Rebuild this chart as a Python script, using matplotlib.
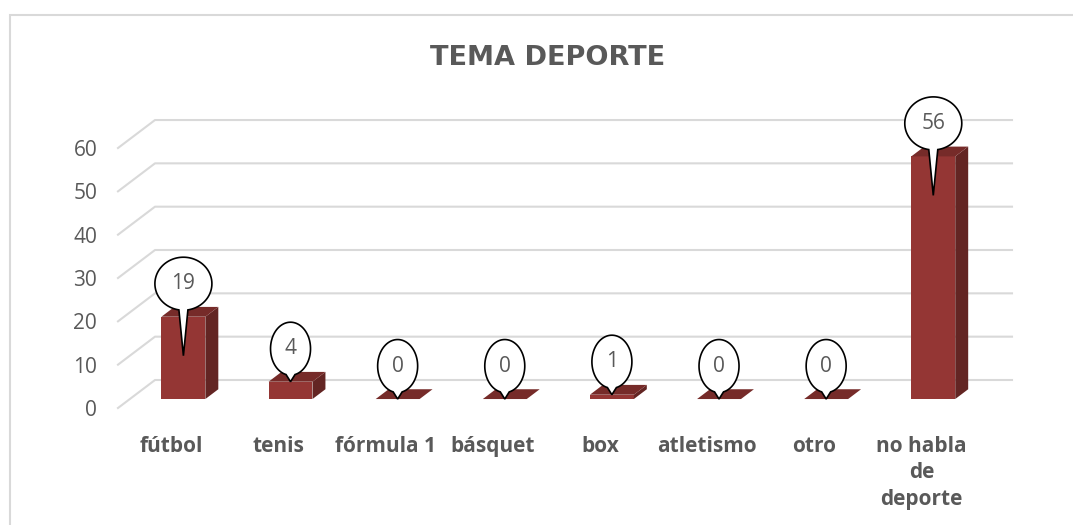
import matplotlib
matplotlib.use('Agg')
import matplotlib.pyplot as plt
from matplotlib.patches import Polygon, Rectangle
import numpy as np

plt.rcParams['font.family'] = ['Open Sans', 'DejaVu Sans']

# datos
categorias = ['fútbol', 'tenis', 'fórmula 1', 'básquet', 'box', 'atletismo', 'otro',
              'no habla\nde\ndeporte']
valores = [19, 4, 0, 0, 1, 0, 0, 56]
ticks_y = [0, 10, 20, 30, 40, 50, 60]
titulo = 'TEMA DEPORTE'

gris = '#595959'
c_frente = '#943634'
c_lado = '#632523'
c_arriba = '#762b29'

W, H = 1073, 525
fig = plt.figure(figsize=(W / 100, H / 100), dpi=100)

# pseudo 3D: el eje es el plano frontal del piso
px_cat = 857 / 8.0
px_val = 4.333
ax = fig.add_axes([118 / W, (H - 408) / H, 857 / W, 288 / H])
ax.set_xlim(-0.5, 7.5)
ax.set_ylim(0, 288 / px_val)
for s in ax.spines.values():
    s.set_visible(False)

DX = 37 / px_cat   # profundidad del piso
DY = 28 / px_val
d0, d1 = 0.32, 0.67
hw = 0.205

# cuadricula (pared del fondo + piso)
for v in ticks_y:
    ax.plot([-0.5, -0.5 + DX, 7.5 + DX], [v, v + DY, v + DY], color='#d9d9d9',
            lw=1.5, clip_on=False, zorder=1)

ddx = DX * (d1 - d0)
ddy = DY * (d1 - d0)
for i, v in enumerate(valores):
    x0 = i - hw + DX * d0
    x1 = i + hw + DX * d0
    yb = DY * d0
    yt = v + DY * d0
    if v > 0:
        ax.add_patch(Rectangle((x0, yb), x1 - x0, v, fc=c_frente, ec='none', zorder=3))
        ax.add_patch(Polygon([(x1, yb), (x1 + ddx, yb + ddy), (x1 + ddx, yt + ddy), (x1, yt)],
                             closed=True, fc=c_lado, ec='none', zorder=3))
    ax.add_patch(Polygon([(x0, yt), (x1, yt), (x1 + ddx, yt + ddy), (x0 + ddx, yt + ddy)],
                         closed=True, fc=c_arriba, ec='none', zorder=3))

    # globo con la etiqueta
    cx = i + DX * d0
    cy = yt + 33 / px_val
    rx_px = 28.5 if v >= 10 else 20
    rx = rx_px / px_cat
    ry = 26.5 / px_val
    tip = yt - 9 if v > 9 else yt
    a = np.degrees(np.arcsin(4.5 / rx_px))
    t = np.radians(np.linspace(-90 + a, 270 - a, 120))
    pts = list(zip(cx + rx * np.cos(t), cy + ry * np.sin(t))) + [(cx, tip)]
    ax.add_patch(Polygon(pts, closed=True, fc='white', ec='black', lw=1.2,
                         zorder=5, clip_on=False))
    ax.text(cx, cy, str(v), ha='center', va='center', fontsize=15, color=gris, zorder=6)

ax.set_yticks(ticks_y)
ax.tick_params(axis='y', length=0, pad=15, labelsize=15, labelcolor=gris)
ax.set_xticks(range(len(categorias)))
ax.set_xticklabels(categorias, fontsize=15, fontweight='bold', color=gris, linespacing=1.35)
ax.tick_params(axis='x', length=0, pad=20)

fig.text(548 / W, 1 - 58 / H, titulo, ha='center', va='center', fontsize=19.5,
         fontweight='bold', color=gris, family='DejaVu Sans')

fig.add_artist(Rectangle((10 / W, -0.05), 1.0, 1.05 - 15 / H, transform=fig.transFigure,
                         fill=False, ec='#d9d9d9', lw=1.5))

fig.savefig('out.png', dpi=100)
